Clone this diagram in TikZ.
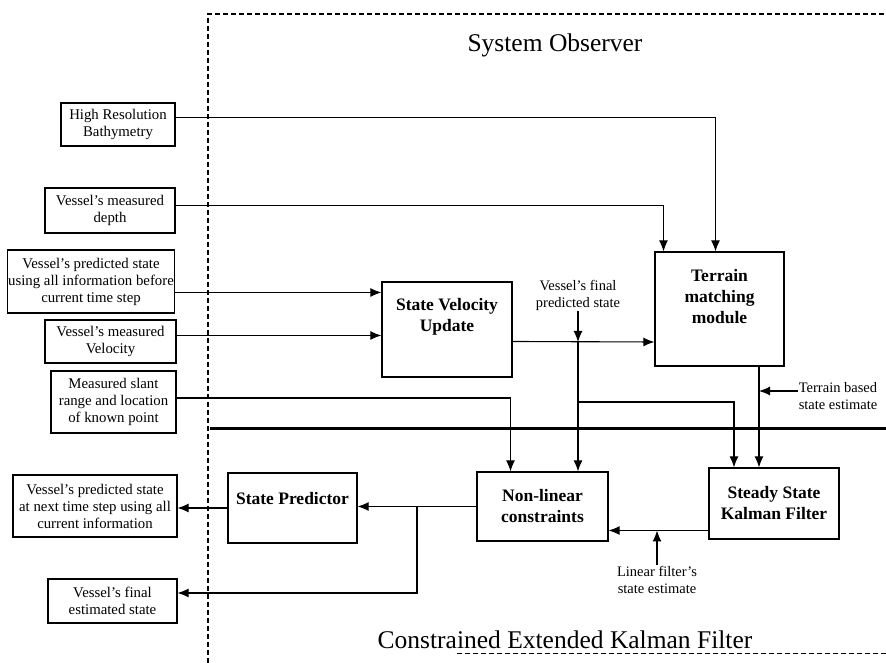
\documentclass[tikz,border=0pt]{standalone}
\usepackage{fontspec}
\setmainfont{Liberation Serif}
\usetikzlibrary{arrows.meta, positioning}

\begin{document}
\begin{tikzpicture}[
    x=1pt, y=1pt,
    inbox/.style={draw, line width=1.1pt, align=center, inner sep=1pt,
        font=\fontsize{14.8}{17}\selectfont},
    blockbox/.style={draw, line width=1.2pt, align=center, inner sep=1pt,
        font=\fontsize{17.5}{21}\selectfont\bfseries},
    note/.style={align=center, inner sep=1pt, font=\fontsize{14.5}{17}\selectfont},
    title/.style={font=\fontsize{25.5}{30}\selectfont},
    arr/.style={line width=1.1pt, -{Latex[length=11pt,width=9pt]}},
]
\useasboundingbox (0,0) rectangle (886,663);

\draw[dashed, dash pattern=on 5pt off 3pt, line width=1.1pt] (208,0) -- (208,649) -- (886,649);
\draw[dashed, dash pattern=on 5pt off 3pt, line width=0.9pt] (457,10) -- (886,10);
\draw[line width=3pt] (210,234) -- (886,234);

\node[title] (so) at (555,618) {System Observer};
\node[title] (cekf) at (565,23) {Constrained Extended Kalman Filter};

\node[inbox, minimum width=114pt, minimum height=43pt] (bathy) at (118,538.5) {High Resolution\\Bathymetry};
\node[inbox, minimum width=130pt, minimum height=45pt] (depth) at (110,452.5) {Vessel's measured\\depth};
\node[inbox, minimum width=166pt, minimum height=63pt] (predin) at (91,381.5) {Vessel's predicted state\\using all information before\\current time step};
\node[inbox, minimum width=131pt, minimum height=43pt] (velo) at (110.5,321.5) {Vessel's measured\\Velocity};
\node[inbox, minimum width=125pt, minimum height=62pt] (slant) at (113.5,261) {Measured slant\\range and location\\of known point};
\node[inbox, minimum width=164pt, minimum height=62pt] (nextout) at (95,157) {Vessel's predicted state\\at next time step using all\\current information};
\node[inbox, minimum width=129pt, minimum height=44pt] (finalout) at (112.5,62) {Vessel's final\\estimated state};

\node[blockbox, minimum width=130pt, minimum height=95pt, text depth=30pt] (svu) at (447,333.5) {State Velocity\\Update};
\node[blockbox, minimum width=129pt, minimum height=114pt, text height=30pt] (tmm) at (719.5,354) {Terrain\\matching\\module};
\node[blockbox, minimum width=131pt, minimum height=69pt] (nlc) at (542.5,156.5) {Non-linear\\constraints};
\node[blockbox, minimum width=130pt, minimum height=71pt] (sskf) at (774,159.5) {Steady State\\Kalman Filter};
\node[blockbox, minimum width=129pt, minimum height=70pt, text depth=20pt] (sp) at (292.5,155) {State Predictor};

\node[note] (fplab) at (578,368) {Vessel's final\\predicted state};
\node[note] (tblab) at (838,267) {Terrain based\\state estimate};
\node[note] (lflab) at (657,83) {Linear filter's\\state estimate};

\coordinate (fp) at (578,321);
\coordinate (br) at (578,261);
\coordinate (fe) at (417,156);
\coordinate (tm) at ([xshift=39.5pt]tmm.south);

\draw[arr] ([yshift=7pt]bathy.east) -| ([xshift=-4pt]tmm.north);
\draw[arr] ([yshift=5pt]depth.east) -| ([xshift=-56pt]tmm.north);
\draw[arr] ([yshift=-11pt]predin.east) -- ([yshift=-11pt]predin.east -| svu.west);
\draw[arr] ([yshift=6pt]velo.east) -- ([yshift=6pt]velo.east -| svu.west);
\draw[arr] ([yshift=4pt]slant.east) -| ([xshift=-32pt]nlc.north);
\draw[arr] ([yshift=-12pt]svu.east) -- (fp -| tmm.west);
\draw[arr] (fplab.south) -- (fp);
\draw[arr] (fp) -- (fp |- nlc.north);
\draw[arr] (br) -| ([xshift=-40pt]sskf.north);
\draw[arr] (tm) -- (tm |- sskf.north);
\draw[arr] ([yshift=5pt]tblab.west) -- ([yshift=5pt]tblab.west -| tm);
\draw[arr] ([yshift=-27pt]sskf.west) -- ([yshift=-27pt]sskf.west -| nlc.east);
\draw[arr] (lflab.north) -- ([yshift=-27pt]sskf.west -| lflab.north);
\draw[arr] (nlc.west) -- (nlc.west -| sp.east);
\draw[arr] (fe) |- ([yshift=8pt]finalout.east);
\draw[arr] (sp.west) -- (sp.west -| nextout.east);
\end{tikzpicture}
\end{document}
